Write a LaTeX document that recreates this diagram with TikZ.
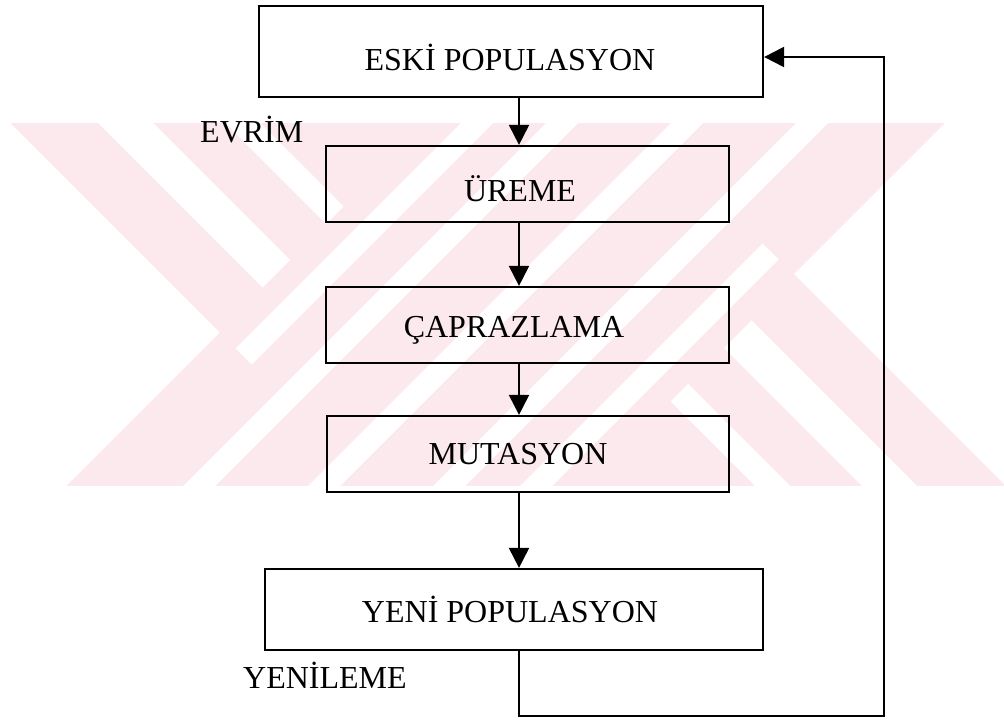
\documentclass[tikz,border=0pt]{standalone}
\usepackage{fontspec}
\setmainfont{Liberation Serif}
\usetikzlibrary{arrows.meta}
\definecolor{wmpink}{RGB}{252,233,237}
\begin{document}
\begin{tikzpicture}[x=1pt,y=-1pt,
  stagebox/.style={draw, line width=2.2pt, inner sep=0pt},
  lbl/.style={font=\fontsize{32}{36}\selectfont, inner sep=0pt, anchor=base},
  flow/.style={line width=2pt, -{Triangle[length=20pt,width=20pt]}},
]
\useasboundingbox (0,0) rectangle (1004,722);

% striped background emblem
\begin{scope}
  \clip (0,123) rectangle (1004,486);
  \fill[wmpink] (0,123) rectangle (1004,486);
  % left and right wedges
  \fill[white] (10,123) -- (219.5,332.5) -- (66,486) -- (-20,486) -- (-20,123) -- cycle;
  \fill[white] (945,123) -- (794,274) -- (1006,486) -- (1030,486) -- (1030,123) -- cycle;
  % falling stripes
  \fill[white] (75,100) -- (130,100) -- (290,260) -- (262.5,287.5) -- cycle;
  \fill[white] (202,100) -- (237,100) -- (343.5,206.5) -- (326,224) -- cycle;
  \fill[white] (939,508) -- (884,508) -- (724,348) -- (751.5,320.5) -- cycle;
  \fill[white] (812,508) -- (777,508) -- (670.5,401.5) -- (688,384) -- cycle;
  % rising stripes
  \foreach \c in {685,810,935}
    \fill[white] ({\c-116},100) -- ({\c-84},100) -- ({\c-494},510) -- ({\c-526},510) -- cycle;
  \fill[white] (484,100) -- (516,100) -- (251.5,364.5) -- (235.5,348.5) -- cycle;
  \fill[white] (530,508) -- (498,508) -- (762.5,243.5) -- (778.5,259.5) -- cycle;
\end{scope}

% stages
\node[stagebox, minimum width=504pt, minimum height=91pt] (eski)   at (511,51.5) {};
\node[stagebox, minimum width=403pt, minimum height=76pt] (ureme)  at (527.5,184) {};
\node[stagebox, minimum width=403pt, minimum height=76pt] (capraz) at (527.5,325) {};
\node[stagebox, minimum width=402pt, minimum height=76pt] (mutas)  at (528,454) {};
\node[stagebox, minimum width=498pt, minimum height=81pt] (yeni)   at (514,609.5) {};

\node[lbl] (teski)   at (510,71)  {ESKİ POPULASYON};
\node[lbl] (tureme)  at (520,202) {ÜREME};
\node[lbl] (tcapraz) at (514,337) {ÇAPRAZLAMA};
\node[lbl] (tmutas)  at (518,464) {MUTASYON};
\node[lbl] (tyeni)   at (510,622) {YENİ POPULASYON};

\node[lbl, anchor=base west] (evrim) at (200,143) {EVRİM};
\node[lbl, anchor=base west] (yenil) at (243,688) {YENİLEME};

% flow column and return path
\coordinate (ax) at (519,0);
\coordinate (fbx) at (884,716);

\draw[flow] (eski.south -| ax)   -- (ureme.north -| ax);
\draw[flow] (ureme.south -| ax)  -- (capraz.north -| ax);
\draw[flow] (capraz.south -| ax) -- (mutas.north -| ax);
\draw[flow] (mutas.south -| ax)  -- (yeni.north -| ax);
\draw[flow] (yeni.south -| ax) |- (fbx) |- ([yshift=-5.5pt]eski.east);
\end{tikzpicture}
\end{document}
